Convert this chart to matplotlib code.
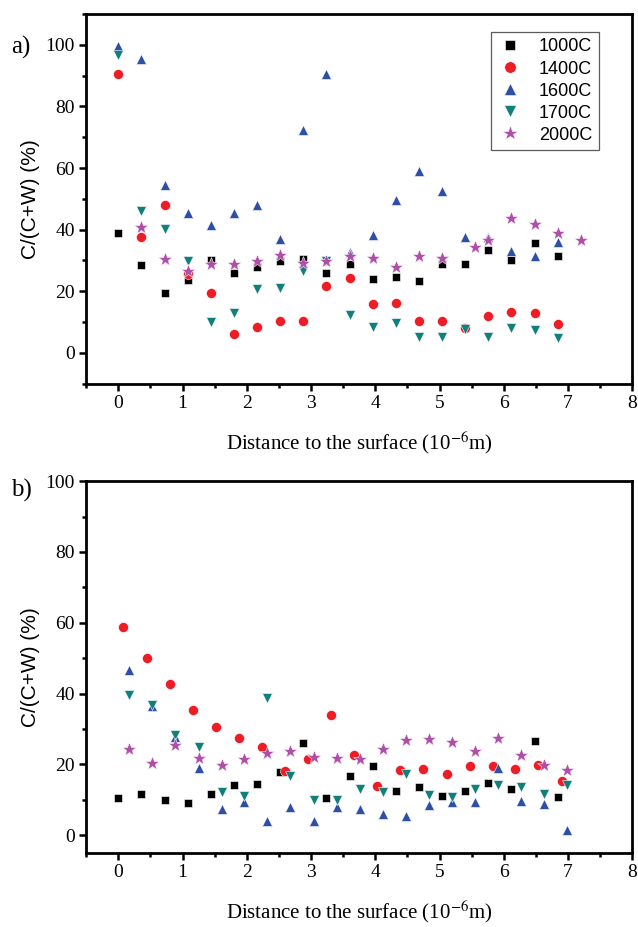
import matplotlib
matplotlib.use("Agg")
import matplotlib.pyplot as plt
from matplotlib.ticker import MultipleLocator

plt.rcParams['font.family'] = ['Liberation Serif', 'DejaVu Serif']
plt.rcParams['mathtext.fontset'] = 'stix'

series_names = ["1000C", "1400C", "1600C", "1700C", "2000C"]

# ---- panel a ----
a_x_1000 = [0, 0.36, 0.72, 1.08, 1.44, 1.8, 2.16, 2.52, 2.88, 3.24, 3.6, 3.96, 4.32, 4.68, 5.04, 5.4, 5.76, 6.12, 6.48, 6.84]
a_y_1000 = [38.8, 28.4, 19.4, 23.6, 30.0, 26.0, 27.9, 29.8, 30.6, 26.1, 29.0, 24.1, 24.6, 23.4, 28.8, 28.8, 33.4, 30.2, 35.7, 31.3]
a_x_1400 = [0, 0.36, 0.72, 1.08, 1.44, 1.8, 2.16, 2.52, 2.88, 3.24, 3.6, 3.96, 4.32, 4.68, 5.04, 5.4, 5.76, 6.12, 6.48, 6.84]
a_y_1400 = [90.6, 37.5, 48.1, 25.6, 19.4, 6.1, 8.5, 10.5, 10.5, 21.8, 24.2, 16.0, 16.2, 10.5, 10.3, 8.2, 12.1, 13.3, 13.1, 9.3]
a_x_1600 = [0, 0.36, 0.72, 1.08, 1.44, 1.8, 2.16, 2.52, 2.88, 3.24, 3.6, 3.96, 4.32, 4.68, 5.04, 5.4, 5.76, 6.12, 6.48, 6.84]
a_y_1600 = [99.5, 95.3, 54.6, 45.5, 41.6, 45.5, 48.1, 37.1, 72.3, 90.6, 32.6, 38.3, 49.7, 58.9, 52.6, 37.7, 37.5, 33.0, 31.3, 35.9]
a_x_1700 = [0, 0.36, 0.72, 1.08, 1.44, 1.8, 2.16, 2.52, 2.88, 3.24, 3.6, 3.96, 4.32, 4.68, 5.04, 5.4, 5.76, 6.12, 6.48, 6.84]
a_y_1700 = [96.8, 46.0, 40.1, 29.8, 10.1, 13.0, 20.8, 21.0, 26.6, 29.8, 12.2, 8.5, 9.8, 5.3, 5.2, 7.9, 5.2, 8.2, 7.3, 5.0]
a_x_2000 = [0.36, 0.72, 1.08, 1.44, 1.8, 2.16, 2.52, 2.88, 3.24, 3.6, 3.96, 4.32, 4.68, 5.04, 5.55, 5.76, 6.12, 6.48, 6.84, 7.2]
a_y_2000 = [41.0, 30.4, 26.6, 28.8, 29.0, 29.8, 31.8, 29.3, 29.7, 31.6, 30.8, 27.9, 31.3, 30.8, 34.3, 36.7, 43.9, 41.7, 38.8, 36.7]

# ---- panel b ----
b_x_1000 = [0, 0.36, 0.72, 1.08, 1.44, 1.8, 2.16, 2.52, 2.88, 3.24, 3.6, 3.96, 4.32, 4.68, 5.04, 5.4, 5.76, 6.12, 6.48, 6.84]
b_y_1000 = [10.5, 11.7, 9.8, 9.0, 11.7, 14.3, 14.5, 17.8, 26.1, 10.5, 16.8, 19.6, 12.4, 13.6, 11.0, 12.4, 14.8, 13.1, 26.6, 10.7]
b_x_1400 = [0.08, 0.44, 0.8, 1.16, 1.52, 1.88, 2.24, 2.6, 2.95, 3.31, 3.67, 4.03, 4.39, 4.75, 5.11, 5.47, 5.83, 6.18, 6.54, 6.9]
b_y_1400 = [58.8, 50.1, 42.6, 35.3, 30.5, 27.5, 24.9, 18.1, 21.6, 33.8, 22.6, 14.0, 18.4, 18.8, 17.4, 19.6, 19.6, 18.8, 19.8, 15.4]
b_x_1600 = [0.17, 0.53, 0.89, 1.25, 1.61, 1.96, 2.32, 2.68, 3.04, 3.4, 3.76, 4.12, 4.48, 4.84, 5.2, 5.55, 5.91, 6.27, 6.63, 6.99]
b_y_1600 = [46.6, 36.4, 27.7, 19.0, 7.4, 9.3, 4.1, 8.0, 4.1, 7.9, 7.4, 6.1, 5.4, 8.5, 9.4, 9.4, 19.0, 9.7, 8.8, 1.4]
b_x_1700 = [0.17, 0.53, 0.89, 1.25, 1.61, 1.96, 2.32, 2.68, 3.04, 3.4, 3.76, 4.12, 4.48, 4.84, 5.2, 5.55, 5.91, 6.27, 6.63, 6.99]
b_y_1700 = [39.5, 36.7, 28.2, 24.9, 12.1, 11.0, 38.8, 16.7, 9.8, 10.0, 12.9, 12.2, 17.4, 11.3, 10.7, 13.1, 14.3, 13.6, 11.5, 14.1]
b_x_2000 = [0.17, 0.53, 0.89, 1.25, 1.61, 1.96, 2.32, 2.68, 3.04, 3.4, 3.76, 4.12, 4.48, 4.84, 5.2, 5.55, 5.91, 6.27, 6.63, 6.99]
b_y_2000 = [24.4, 20.4, 25.4, 21.7, 19.9, 21.5, 23.2, 23.7, 22.0, 21.8, 21.4, 24.4, 27.0, 27.2, 26.4, 23.9, 27.3, 22.7, 19.9, 18.5]

x_ticks = [0, 1, 2, 3, 4, 5, 6, 7, 8]
y_ticks = [0, 20, 40, 60, 80, 100]

styles = [
    dict(marker='s', color='#000000', ms=6.0),
    dict(marker='o', color='#ee1c24', ms=7.2),
    dict(marker='^', color='#2f4ea6', ms=7.8),
    dict(marker='v', color='#11807a', ms=7.8),
    dict(marker='*', color='#b04fa8', ms=10.0),
]

fig = plt.figure(figsize=(6.38, 9.27), dpi=100)
ax_a = fig.add_axes([0.135, 0.586, 0.856, 0.399])
ax_b = fig.add_axes([0.135, 0.080, 0.856, 0.401])

data_a = [(a_x_1000, a_y_1000), (a_x_1400, a_y_1400), (a_x_1600, a_y_1600),
          (a_x_1700, a_y_1700), (a_x_2000, a_y_2000)]
data_b = [(b_x_1000, b_y_1000), (b_x_1400, b_y_1400), (b_x_1600, b_y_1600),
          (b_x_1700, b_y_1700), (b_x_2000, b_y_2000)]

def style_axes(ax, ylim):
    ax.set_xlim(-0.5, 8)
    ax.set_ylim(*ylim)
    ax.set_xticks(x_ticks)
    ax.set_yticks(y_ticks)
    ax.xaxis.set_minor_locator(MultipleLocator(0.5))
    ax.yaxis.set_minor_locator(MultipleLocator(10))
    for s in ax.spines.values():
        s.set_linewidth(2.0)
    ax.tick_params(which='both', direction='out', top=False, right=False, width=1.8)
    ax.tick_params(which='major', length=5, labelsize=14, pad=3)
    ax.tick_params(which='minor', length=3)
    ax.set_xlabel(r'Distance to the surface (10$^{-6}$m)', fontsize=15, labelpad=13)
    ax.set_ylabel('C/(C+W) (%)', fontsize=15, family=['Liberation Sans'], labelpad=4)

for ax, data, ylim in [(ax_a, data_a, (-10, 110)), (ax_b, data_b, (-5, 100))]:
    for name, (xs, ys), st in zip(series_names, data, styles):
        ax.plot(xs, ys, linestyle='none', marker=st['marker'], color=st['color'],
                markersize=st['ms'], markeredgewidth=0.4, markeredgecolor='white',
                label=name)
    style_axes(ax, ylim)

leg = ax_a.legend(loc='upper right', bbox_to_anchor=(0.955, 0.975), prop={'family': 'Liberation Sans', 'size': 13},
                  frameon=True, fancybox=False, edgecolor='#333333', handletextpad=0.9,
                  labelspacing=0.28, borderpad=0.35, handlelength=1.4, markerscale=1.15)
leg.get_frame().set_linewidth(0.9)

fig.text(0.018, 0.949, 'a)', fontsize=18, va='center')
fig.text(0.018, 0.471, 'b)', fontsize=18, va='center')

fig.savefig('out.png', dpi=100)
